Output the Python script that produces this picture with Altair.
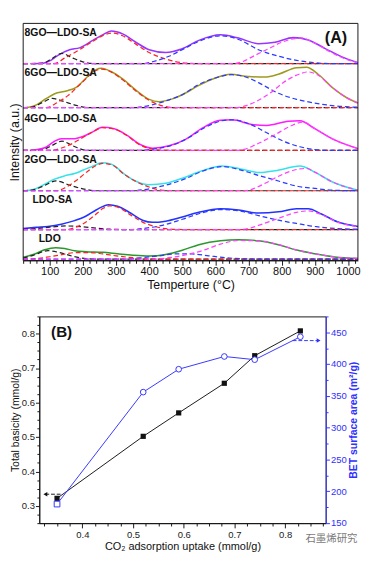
import altair as alt
import pandas as pd

# ---------------- Panel A: CO2-TPD profiles (temperature in °C, intensity in a.u.) ----------------
panel_names = ["LDO", "LDO-SA", "2GO—LDO-SA", "4GO—LDO-SA", "6GO—LDO-SA", "8GO—LDO-SA"]
baselines = [1.5, 33.3, 75.0, 118.3, 164.3, 211.7]   # vertical stacking offsets

ldo_total = [(20,2),(55,5.5),(85,10),(118,12.3),(145,11.3),(175,9),(210,8),(260,7.3),(305,5.7),(350,4.2),(400,3.3),(450,5),(500,9.5),(550,15.5),(615,19.7),(670,20.7),(730,19.7),(790,15.5),(845,9.7),(900,5.7),(960,2.3),(1030,0.7)]
ldo_black = [(20,1),(50,4),(95,9),(130,7),(170,3),(210,0.5),(240,0),(1030,0)]
ldo_red = [(20,0),(60,0.5),(100,2.5),(140,5),(180,7),(220,7),(260,5.5),(300,3.5),(350,1.5),(400,0.3),(440,0),(1030,0)]
ldo_blue = [(20,0),(330,0),(380,1.5),(430,3.5),(480,5.5),(530,5.5),(580,3.5),(630,1.5),(680,0.3),(720,0),(1030,0)]
ldo_magenta = [(20,0),(420,0),(460,1.5),(510,4.5),(560,9),(615,16),(670,20),(730,19.5),(790,15.5),(845,9.7),(900,5.7),(960,2.3),(1030,0.7)]

ldosa_total = [(20,1),(60,2.3),(95,3.3),(135,5.7),(170,9),(210,14.5),(240,21),(278,26.7),(305,25),(345,17.5),(380,10),(410,7.7),(450,9),(500,13.5),(550,18.5),(615,22.3),(670,21),(730,17.7),(790,19),(845,22.3),(880,22.3),(920,16.7),(968,8.3),(1030,3.3)]
ldosa_black = [(20,0),(60,1),(100,2.5),(150,3.8),(200,3),(240,1.5),(280,0.3),(320,0),(1030,0)]
ldosa_red = [(20,0),(150,0),(175,2),(205,7),(235,15),(260,22.5),(280,25.5),(305,24),(345,15.5),(380,8),(420,3),(460,0.5),(500,0),(1030,0)]
ldosa_blue = [(20,0),(350,0),(390,1.5),(440,4.5),(500,11),(560,18),(620,21.5),(680,19.5),(730,15),(790,10),(845,6.5),(900,3.3),(960,1.2),(1030,0.3)]
ldosa_magenta = [(20,0),(680,0),(710,2),(735,5),(790,12),(845,18.5),(880,20),(920,16),(968,8),(1030,3)]

go2_total = [(30,0),(60,2.5),(90,8),(115,12.5),(145,16),(175,18.5),(200,22),(230,26.5),(257,30),(286,28.5),(325,18),(362,10),(400,6.5),(450,8),(505,14),(560,21.5),(620,26.5),(675,23.5),(735,19.5),(780,21.5),(855,26.5),(900,20),(950,10),(1030,0.5)]
go2_black = [(20,0),(50,1),(80,5),(120,10.5),(160,6),(200,2),(240,0),(1030,0)]
go2_red = [(20,0),(120,0),(145,3),(180,11),(215,21),(245,28),(260,29.5),(290,27.5),(325,17.5),(360,10),(400,4),(440,0.5),(470,0),(1030,0)]
go2_blue = [(20,0),(350,0),(380,1),(420,3.5),(470,8),(510,13),(560,21),(620,26),(680,22),(730,16.5),(790,10.5),(845,5),(900,2.5),(960,0.5),(1030,0)]
go2_magenta = [(20,0),(690,0),(720,3),(750,8),(805,18),(855,23.5),(875,24),(900,20),(950,10),(1030,0.5)]

go4_total = [(40,0),(85,3),(115,10),(135,12.5),(170,12.5),(200,15),(230,20),(258,25),(295,23.5),(335,16),(370,7),(410,2.5),(460,5),(510,12),(560,24),(615,32.5),(650,33),(710,28),(755,27),(820,31.5),(855,32),(900,23.5),(950,13),(1030,2)]
go4_black = [(20,0),(70,0),(100,4),(137,10),(170,5),(205,0.5),(230,0),(1030,0)]
go4_red = [(20,0),(100,0),(130,2),(160,6),(200,14),(230,20),(258,24.5),(295,23),(335,15.5),(370,6.5),(410,1.5),(450,0),(1030,0)]
go4_blue = [(20,0),(360,0),(400,1),(440,3),(480,7),(520,14),(570,25),(620,32),(650,33),(700,29),(755,19),(805,10),(855,4),(900,1),(950,0),(1030,0)]
go4_magenta = [(20,0),(660,0),(690,1.5),(720,6),(780,17),(825,26),(865,30.5),(900,23.5),(950,13),(1030,2)]

go6_total = [(30,0),(60,3),(90,10),(115,15),(150,18),(180,22),(210,32),(240,41),(255,42.5),(285,39),(320,31),(360,19),(400,9),(430,6.5),(470,9.5),(500,14),(550,24),(600,32),(645,36),(700,33.5),(750,33),(790,36),(845,43),(875,43.5),(910,36),(955,21),(995,11),(1030,5)]
go6_black = [(20,0),(50,1),(80,6),(108,10),(140,7),(180,2.5),(220,0),(1030,0)]
go6_red = [(20,0),(90,0),(120,5),(155,13),(200,28),(240,40),(258,41.5),(285,38.5),(320,30),(360,18),(400,8),(440,2),(480,0),(1030,0)]
go6_blue = [(20,0),(350,0),(380,1),(420,4),(460,8.5),(500,14),(550,25),(600,32),(650,35.5),(700,32),(730,27),(790,15.5),(845,9),(900,5),(960,2),(1030,0.5)]
go6_magenta = [(20,0),(660,0),(690,2),(730,8),(770,17),(805,27),(845,35),(880,38.5),(910,35),(955,21),(995,11),(1030,5)]

go8_total = [(50,0),(80,0.5),(100,3),(125,9),(160,15),(190,17),(230,25),(265,32),(286,35),(320,32),(360,23),(400,15),(450,12),(500,16),(550,25),(615,31),(670,27.5),(730,21.5),(780,23),(835,28),(880,25.5),(930,16.5),(980,7.5),(1030,1)]
go8_black = [(20,0),(80,0.5),(100,4),(137,11),(170,6),(200,2),(240,0),(1030,0)]
go8_red = [(20,0),(110,0),(150,7),(190,15),(230,24),(265,31),(290,33),(320,30),(360,21),(400,12),(450,5),(500,1),(550,0),(1030,0)]
go8_blue = [(20,0),(380,0),(420,3),(460,8),(500,15),(550,24),(615,30),(670,26),(730,15),(790,8),(845,3.5),(900,1),(950,0),(1030,0)]
go8_magenta = [(20,0),(650,0),(680,2),(720,9),(760,16),(800,23),(840,27),(860,27.5),(900,22),(950,12),(1000,4),(1030,1)]

curves = {
    "LDO": dict(total=ldo_total, black=ldo_black, red=ldo_red, blue=ldo_blue, magenta=ldo_magenta),
    "LDO-SA": dict(total=ldosa_total, black=ldosa_black, red=ldosa_red, blue=ldosa_blue, magenta=ldosa_magenta),
    "2GO—LDO-SA": dict(total=go2_total, black=go2_black, red=go2_red, blue=go2_blue, magenta=go2_magenta),
    "4GO—LDO-SA": dict(total=go4_total, black=go4_black, red=go4_red, blue=go4_blue, magenta=go4_magenta),
    "6GO—LDO-SA": dict(total=go6_total, black=go6_black, red=go6_red, blue=go6_blue, magenta=go6_magenta),
    "8GO—LDO-SA": dict(total=go8_total, black=go8_black, red=go8_red, blue=go8_blue, magenta=go8_magenta),
}

# panel-label annotation anchors (temperature, stacked height)
label_T = [67, 48, 24, 24, 24, 24]
label_y = [23, 65, 108, 152, 202, 245]

# ---------------- Panel B ----------------
co2_uptake = [0.35, 0.52, 0.59, 0.68, 0.74, 0.83]
total_basicity = [0.322, 0.502, 0.570, 0.656, 0.736, 0.808]
bet_area = [180, 356, 392, 412, 407, 443]

# ---------------- build tables ----------------
T_DOMAIN = [20, 1030]
I_DOMAIN = [0, 255]
rows = []
for name, base in zip(panel_names, baselines):
    for comp, pts in curves[name].items():
        for T, I in pts:
            rows.append({"panel": name, "comp": comp, "key": name + "|" + comp,
                         "ckey": name if comp == "total" else comp, "T": T, "y": I + base})
dfA = pd.DataFrame(rows)
dfLab = pd.DataFrame({"label": panel_names, "T": label_T, "y": label_y})
dfFrame = pd.DataFrame({"T": [T_DOMAIN[0]], "T2": [T_DOMAIN[1]], "y": [I_DOMAIN[0]], "y2": [I_DOMAIN[1]]})

color_domain = panel_names + ["black", "red", "blue", "magenta"]
color_range = ["#2a982a", "#2233ff", "#35e2ea", "#ff1aff", "#9d9a1e", "#9933ff",
               "#222222", "#ff2222", "#2a3aff", "#ff40ff"]
cscale = alt.Scale(domain=color_domain, range=color_range)

FONT = "Liberation Sans"
A_W, A_H, A_SHIFT = 336, 250, 17      # panel A starts 17 px left of panel B's plot origin

xA = alt.X("T:Q", scale=alt.Scale(domain=T_DOMAIN, range=[-A_SHIFT, A_W], nice=False, zero=False),
           axis=alt.Axis(values=list(range(20, 1030, 20)), format="d",
                         labelExpr="datum.value % 100 === 0 ? datum.label : ''",
                         tickSize={"condition": {"test": "datum.value % 100 === 0", "value": 5}, "value": 3},
                         title="Temperture (°C)", titleFontSize=13, titleFontWeight="normal",
                         labelFontSize=11.5, labelOverlap=False, labelFlush=False,
                         labelPadding=1, titlePadding=2, grid=False,
                         domainColor="#111", tickColor="#111", labelColor="#111", titleColor="#111"))
yA = alt.Y("y:Q", scale=alt.Scale(domain=I_DOMAIN, nice=False, zero=False),
           axis=alt.Axis(title="Intensity (a.u.)", labels=False, ticks=False, domain=False, grid=False,
                         offset=A_SHIFT, minExtent=0, titlePadding=2, titleFontSize=13,
                         titleFontWeight="normal", titleColor="#111"))

frameA = alt.Chart(dfFrame).mark_rect(filled=False, stroke="#111", strokeWidth=1).encode(
    x=xA, x2="T2:Q", y=yA, y2="y2:Q")
solid = alt.Chart(dfA).transform_filter(alt.datum.comp == "total").mark_line(
    strokeWidth=1.6, interpolate="monotone").encode(
    x=xA, y=yA, detail="key:N", color=alt.Color("ckey:N", scale=cscale, legend=None))
dashed = alt.Chart(dfA).transform_filter(alt.datum.comp != "total").mark_line(
    strokeWidth=1.3, strokeDash=[5, 3], interpolate="monotone").encode(
    x=xA, y=yA, detail="key:N", color=alt.Color("ckey:N", scale=cscale, legend=None))
labels = alt.Chart(dfLab).mark_text(align="left", baseline="middle", font=FONT, fontSize=11,
                                    fontWeight="bold", color="#111").encode(
    x=xA, y=yA, text="label:N")
tagA = alt.Chart(pd.DataFrame({"T": [964], "y": [239], "t": ["(A)"]})).mark_text(
    align="center", baseline="middle", font=FONT, fontSize=17, fontWeight="bold", color="#111").encode(
    x=xA, y=yA, text="t:N")

A = alt.layer(solid, dashed, labels, tagA, frameA).properties(
    width=A_W, height=A_H, view=alt.ViewBackground(stroke="transparent"))

# ---------------- panel B ----------------
dfB = pd.DataFrame({"co2": co2_uptake, "basicity": total_basicity, "bet": bet_area})
TENTHS = "abs(datum.value*10 - round(datum.value*10)) < 1e-6"
xvals = [round(0.325 + 0.025 * i, 3) for i in range(23)]
xB = alt.X("co2:Q", scale=alt.Scale(domain=[0.315, 0.88], nice=False, zero=False),
           axis=alt.Axis(values=xvals,
                         labelExpr=TENTHS + " ? format(datum.value, '.1f') : ''",
                         tickSize={"condition": {"test": TENTHS, "value": 5}, "value": 3},
                         title="CO₂ adsorption uptake (mmol/g)", titleFontSize=11.5, titleFontWeight="normal",
                         labelFontSize=10, labelOverlap=False, labelFlush=False, labelPadding=2, titlePadding=2,
                         grid=False, domainColor="#111", tickColor="#111", labelColor="#222", titleColor="#111"))
lvals = [round(0.25 + 0.025 * i, 3) for i in range(25)]
yL = alt.Y("basicity:Q", scale=alt.Scale(domain=[0.25, 0.85], nice=False, zero=False),
           axis=alt.Axis(orient="left", values=lvals,
                         labelExpr=TENTHS + " ? format(datum.value, '.1f') : ''",
                         tickSize={"condition": {"test": TENTHS, "value": 4}, "value": 2.5},
                         title="Total basicity (mmol/g)", titleFontSize=11, titleFontWeight="normal",
                         labelFontSize=10, labelOverlap=False, labelFlush=False, labelPadding=1, titlePadding=1,
                         minExtent=0, grid=False, domainColor="#111", tickColor="#111",
                         labelColor="#222", titleColor="#111"))
rvals = list(range(150, 476, 25))
BLUE = "#3030ff"
yR = alt.Y("bet:Q", scale=alt.Scale(domain=[150, 475], nice=False, zero=False),
           axis=alt.Axis(orient="right", values=rvals,
                         labelExpr="datum.value % 50 === 0 ? datum.label : ''",
                         tickSize={"condition": {"test": "datum.value % 50 === 0", "value": 4}, "value": 2.5},
                         title="BET surface area (m²/g)", titleFontSize=11, titleFontWeight="bold",
                         titleAngle=270, titleBaseline="top",
                         labelFontSize=10, labelOverlap=False, labelFlush=False, labelPadding=1, titlePadding=2,
                         minExtent=0, grid=False, domainColor=BLUE, tickColor=BLUE,
                         labelColor=BLUE, titleColor=BLUE))

baseB = alt.Chart(dfB)
l_line = baseB.mark_line(color="#111", strokeWidth=1).encode(x=xB, y=yL)
l_pts = baseB.mark_point(shape="square", filled=True, size=30, color="#111", opacity=1).encode(x=xB, y=yL)
arrowL = pd.DataFrame({"co2": [0.327], "co2_end": [0.357], "basicity": [0.334]})
l_arrow = alt.Chart(arrowL).mark_rule(color="#111", strokeWidth=1, strokeDash=[4, 2]).encode(
    x=xB, x2="co2_end:Q", y=yL)
l_head = alt.Chart(arrowL).mark_point(shape="triangle-left", filled=True, size=22, color="#111", opacity=1).encode(
    x=xB, y=yL)
tagB = alt.Chart(pd.DataFrame({"co2": [0.359], "basicity": [0.803], "t": ["(B)"]})).mark_text(
    align="center", baseline="middle", font=FONT, fontSize=16, fontWeight="bold", color="#111").encode(
    x=xB, y=yL, text="t:N")
wm = alt.Chart(pd.DataFrame({"co2": [0.84], "basicity": [0.205], "t": ["石墨烯研究"]})).mark_text(
    align="left", baseline="middle", font="Noto Sans CJK SC", fontSize=11, color="#7a7a7a").encode(
    x=xB, y=yL, text="t:N")

r_line = baseB.mark_line(color=BLUE, strokeWidth=1).encode(x=xB, y=yR)
r_pts = baseB.transform_window(rank="row_number()", sort=[alt.SortField("co2")]).mark_point(
    filled=True, fill="white", stroke=BLUE, strokeWidth=1, size=36, opacity=1).encode(
    x=xB, y=yR, shape=alt.condition("datum.rank == 1", alt.value("square"), alt.value("circle")))
arrowR = pd.DataFrame({"co2": [0.815], "co2_end": [0.866], "bet": [437]})
headR = pd.DataFrame({"co2": [0.866], "bet": [437]})
r_arrow = alt.Chart(arrowR).mark_rule(color=BLUE, strokeWidth=1, strokeDash=[4, 2]).encode(
    x=xB, x2="co2_end:Q", y=yR)
r_head = alt.Chart(headR).mark_point(shape="triangle-right", filled=True, size=22, color=BLUE, opacity=1).encode(
    x=xB, y=yR)

left = alt.layer(l_line, l_pts, l_arrow, l_head, tagB, wm)
right = alt.layer(r_line, r_pts, r_arrow, r_head)
B = alt.layer(left, right).resolve_scale(y="independent").properties(width=302, height=218)

chart = alt.vconcat(A, B, spacing=20, padding=0).configure(font=FONT).configure_view(
    stroke="#111", strokeWidth=1).configure_axis(labelFont=FONT, titleFont=FONT)

chart.save("out.html", embed_options={"renderer": "svg", "actions": False})
